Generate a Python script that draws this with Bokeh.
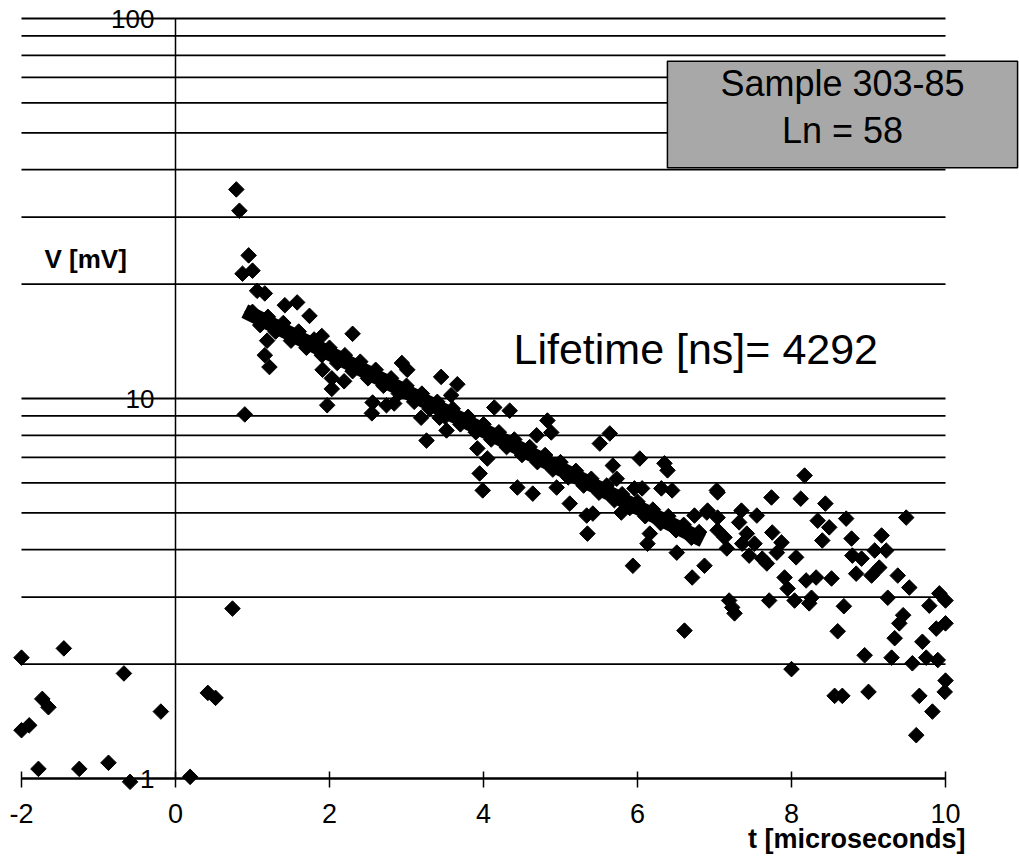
from bokeh.plotting import figure
from bokeh.models import FixedTicker, Label, PrintfTickFormatter
from bokeh.embed import file_html
from bokeh.resources import INLINE

FONT = "Liberation Sans"

# ---- data ----
x_ticks = [-2, 0, 2, 4, 6, 8, 10]
y_ticks = [1, 10, 100]
y_minor = [2, 3, 4, 5, 6, 7, 8, 9, 20, 30, 40, 50, 60, 70, 80, 90]

# scattered measured points: t [microseconds], V [mV]
t_us = [
    -2.0, -1.45, -0.67, -1.73, -1.65, -2.0, -1.90, -0.19, -1.78, -1.25, -0.87, -0.59, 0.19, 0.42, 0.52, 0.74,
    0.79, 0.83, 0.95, 0.87, 1.0, 1.06, 1.16, 1.42, 1.58, 1.74, 2.30, 1.90, 1.19, 1.16, 1.22, 1.91, 2.03, 2.19,
    2.03, 1.97, 0.90, 2.94, 3.01, 3.45, 3.66, 3.58, 2.56, 2.55, 2.74, 2.84, 3.19, 3.26, 3.43, 3.52, 3.92, 4.05,
    3.95, 3.99, 4.14,
    4.34, 4.83, 4.88, 4.69, 5.64, 5.51, 4.44, 4.64, 6.03, 6.35, 6.39, 5.68, 5.73, 5.96, 6.06, 6.31, 6.45, 7.03,
    7.74, 5.12, 4.95, 5.34, 5.42, 5.35, 5.79, 6.16, 6.13, 6.51, 6.74, 6.91, 7.04, 7.04, 7.13, 7.16, 7.35, 7.55,
    7.32, 7.42, 7.36, 7.52, 7.45, 7.62, 7.68, 7.75, 7.81, 5.94, 6.87, 6.71, 7.71, 7.19, 7.26, 6.61,
    8.17, 7.04, 8.12, 8.44, 6.90, 8.34, 8.49, 8.40, 8.71, 9.49, 7.87, 8.06, 8.78, 9.17, 9.08, 9.23, 8.79, 8.91,
    8.84, 9.04, 9.14, 9.38, 9.53, 7.91, 7.95, 8.04, 8.19, 8.32, 8.52, 8.26, 8.23, 7.23, 9.25, 8.68, 9.92, 10.0,
    9.79, 9.45, 9.40, 10.0, 9.88, 8.60, 9.34, 9.70, 8.95, 9.30, 9.57, 9.75, 9.90, 8.0, 10.0, 8.56, 8.66, 9.0,
    9.66, 9.99, 9.83, 9.62,
]
v_mV = [
    2.08, 2.20, 1.89, 1.62, 1.54, 1.34, 1.38, 1.50, 1.06, 1.06, 1.10, 0.98, 1.01, 1.68, 1.63, 2.80,
    35.5, 31.2, 23.8, 21.3, 21.7, 19.2, 18.9, 17.6, 17.9, 16.5, 14.8, 14.6, 14.2, 13.0, 12.1, 11.9, 11.3, 11.1,
    10.6, 9.6, 9.08, 12.4, 11.9, 11.4, 10.9, 10.2, 9.76, 9.14, 9.6, 9.70, 8.9, 7.75, 8.9, 8.24, 7.39, 6.95,
    6.35, 5.73, 9.47,
    9.29, 8.75, 8.14, 8.0, 8.09, 7.61, 5.83, 5.62, 6.95, 6.75, 6.47, 6.66, 6.15, 5.80, 5.80, 5.8, 5.73, 5.73,
    5.49, 5.29, 5.83, 4.92, 4.98, 4.41, 5.01, 4.41, 4.15, 3.93, 4.92, 5.07, 4.86, 4.50, 4.31, 4.03, 5.07, 4.92,
    4.72, 4.41, 4.15, 4.15, 3.86, 3.79, 3.68, 4.44, 3.93, 3.63, 3.63, 3.38, 2.94, 2.94, 2.72, 2.45,
    6.27, 5.66, 5.45, 5.29, 5.01, 4.77, 4.58, 4.23, 4.83, 4.86, 4.18, 3.82, 4.28, 4.36, 3.98, 3.98, 3.86, 3.79,
    3.46, 3.42, 3.59, 3.42, 3.18, 3.38, 3.16, 2.94, 3.32, 3.38, 3.36, 2.99, 2.89, 2.82, 2.99, 2.84, 3.07, 2.94,
    2.85, 2.69, 2.56, 2.56, 2.48, 2.44, 2.34, 2.29, 2.11, 2.08, 2.01, 2.08, 2.05, 1.94, 1.81, 1.65, 1.65, 1.69,
    1.65, 1.69, 1.50, 1.30,
]

# dense points forming the band along the decay
band_t = [1.0, 1.1, 1.2, 1.3, 1.4, 1.5, 1.6, 1.7, 1.8, 1.9, 2.0, 2.1, 2.2, 2.3, 2.4, 2.5, 2.6, 2.7, 2.8, 2.9,
          3.0, 3.1, 3.2, 3.3, 3.4, 3.5, 3.6, 3.7, 3.8, 3.9, 4.0, 4.1, 4.2, 4.3, 4.4, 4.5, 4.6, 4.7, 4.8, 4.9,
          5.0, 5.1, 5.2, 5.3, 5.4, 5.5, 5.6, 5.7, 5.8, 5.9, 6.0, 6.1, 6.2, 6.3, 6.4, 6.5, 6.6, 6.7, 6.8]
band_v = [16.9, 15.6, 16.4, 15.0, 15.8, 14.2, 15.0, 13.6, 14.3, 13.0, 13.6, 12.4, 13.0, 11.8, 12.5, 11.3, 11.9,
          10.8, 11.3, 10.3, 10.8, 9.8, 10.3, 9.4, 9.8, 8.95, 9.4, 8.55, 8.95, 8.15, 8.55, 7.8, 8.15, 7.45, 7.8,
          7.1, 7.45, 6.8, 7.1, 6.5, 6.8, 6.2, 6.45, 5.9, 6.15, 5.65, 5.9, 5.4, 5.6, 5.15, 5.35, 4.9, 5.1, 4.7,
          4.9, 4.5, 4.65, 4.3, 4.45]

# exponential fit (straight on log axis): end points
fit_t = [0.9, 6.85]
fit_v = [16.98, 4.24]

# ---- figure: frame covers the whole canvas; axes are placed at t=0 and V=1 ----
W, H = 1019, 863
x_lo, x_hi = -2 - 21 / 77, 10 + 74 / 77          # 77 px per microsecond
y_lo, y_hi = 10 ** (-85 / 380), 10 ** (778 / 380)  # 380 px per decade
p = figure(width=W, height=H, x_range=(x_lo, x_hi), y_range=(y_lo, y_hi), y_axis_type="log",
           output_backend="svg", toolbar_location=None,
           min_border_left=0, min_border_right=0, min_border_top=0, min_border_bottom=0)
p.outline_line_color = None
p.background_fill_color = "white"
p.border_fill_color = "white"
p.grid.visible = False

# horizontal gridlines at every major and minor tick, from -2 to 10
grid_y = y_ticks + y_minor
p.segment(x0=[x_ticks[0]] * len(grid_y), y0=grid_y, x1=[x_ticks[-1]] * len(grid_y), y1=grid_y,
          line_color="black", line_width=1.8, level="underlay")

yt = FixedTicker(ticks=y_ticks, minor_ticks=y_minor)
p.yaxis.ticker = yt
p.yaxis.fixed_location = 0
p.yaxis.bounds = (y_ticks[0], y_ticks[-1])
p.yaxis.formatter = PrintfTickFormatter(format="%d")
p.yaxis.axis_line_color = "black"
p.yaxis.axis_line_width = 1.5
p.yaxis.major_tick_in = 0
p.yaxis.major_tick_out = 0
p.yaxis.minor_tick_in = 0
p.yaxis.minor_tick_out = 0
p.yaxis.major_label_standoff = 21
p.yaxis.major_label_text_font = FONT
p.yaxis.major_label_text_font_size = "26px"
p.yaxis.major_label_text_color = "black"

p.xaxis.ticker = FixedTicker(ticks=x_ticks)
p.xaxis.fixed_location = 1
p.xaxis.bounds = (x_ticks[0], x_ticks[-1])
p.xaxis.formatter = PrintfTickFormatter(format="%d")
p.xaxis.axis_line_color = "black"
p.xaxis.axis_line_width = 2
p.xaxis.major_tick_in = 7
p.xaxis.major_tick_out = 9
p.xaxis.major_tick_line_width = 1.5
p.xaxis.minor_tick_line_color = None
p.xaxis.major_label_standoff = 16
p.xaxis.major_label_text_font = FONT
p.xaxis.major_label_text_font_size = "27px"
p.xaxis.major_label_text_color = "black"

p.line(fit_t, fit_v, line_color="black", line_width=15)
p.scatter(band_t, band_v, marker="square", angle=0.785398, size=11,
          fill_color="black", line_color="black")
p.scatter(t_us, v_mV, marker="square", angle=0.785398, size=11,
          fill_color="black", line_color="black")

# ---- texts (screen units relative to the frame's left/bottom = canvas) ----
def fx(px):
    return px


def fy(py):
    return H - py


p.add_layout(Label(x=fx(44), y=fy(258), x_units="screen", y_units="screen", text="V [mV]",
                   text_font=FONT, text_font_style="bold", text_font_size="26px",
                   text_align="left", text_baseline="middle", text_color="black"))
p.add_layout(Label(x=fx(965), y=fy(838), x_units="screen", y_units="screen", text="t [microseconds]",
                   text_font=FONT, text_font_style="bold", text_font_size="27px",
                   text_align="right", text_baseline="middle", text_color="black"))
p.add_layout(Label(x=fx(513), y=fy(348), x_units="screen", y_units="screen", text="Lifetime [ns]= 4292",
                   text_font=FONT, text_font_size="43px",
                   text_align="left", text_baseline="alphabetic", text_color="black"))

box_text = "Sample 303-85\nLn = 58"
pad = dict(left=53, right=53, top=2, bottom=17)
p.add_layout(Label(x=fx(848), y=fy(119), x_units="screen", y_units="screen", text=box_text,
                   text_font=FONT, text_font_size="36px", text_line_height=1.13,
                   text_align="center", text_baseline="middle", text_alpha=0,
                   background_fill_color="black", padding=pad))
p.add_layout(Label(x=fx(842), y=fy(114), x_units="screen", y_units="screen", text=box_text,
                   text_font=FONT, text_font_size="36px", text_line_height=1.13,
                   text_align="center", text_baseline="middle", text_color="black",
                   background_fill_color="#a8a8a8", border_line_color="black",
                   border_line_width=1.5, padding=pad))

open("out.html", "w").write(file_html(p, INLINE))
